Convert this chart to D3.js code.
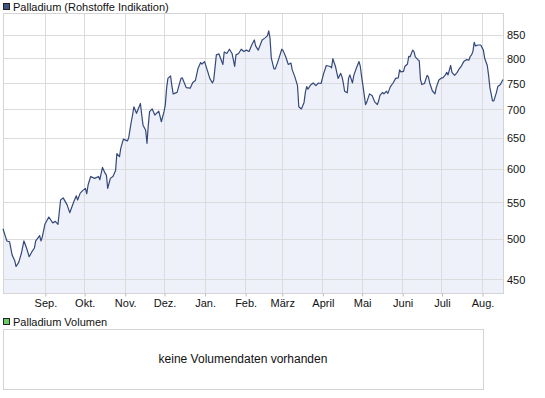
<!DOCTYPE html>
<html>
<head>
<meta charset="utf-8">
<script src="https://cdn.jsdelivr.net/npm/d3@7"></script>
<style>
  body { margin: 0; background: #fff; }
  svg { display: block; font-family: "Liberation Sans", Arial, sans-serif; }
</style>
</head>
<body>
<div id="canvas"><svg></svg></div>
<script>
// Palladium daily close, Aug 2010 - Aug 2011
const startDate = new Date(2010, 6, 31);
const endDate = new Date(2011, 7, 17);

// days after startDate
const dayOffsets = [
  0, 2, 3, 5, 7, 9, 10, 12, 14, 16, 18, 20, 22, 24, 25, 28, 29, 30, 32, 35,
  38, 40, 42, 43, 44, 46, 49, 51, 54, 56, 57, 59, 61, 63, 64, 65, 67, 70, 73, 74,
  76, 78, 79, 80, 82, 84, 86, 87, 89, 90, 92, 95, 96, 98, 99, 100, 102, 105, 106, 107,
  109, 110, 111, 112, 114, 116, 119, 121, 123, 124, 125, 126, 128, 129, 130, 133, 134, 136, 137, 140,
  143, 145, 147, 149, 151, 152, 154, 156, 158, 160, 161, 163, 165, 168, 169, 171, 173, 175, 177, 178,
  180, 182, 184, 186, 188, 190, 192, 193, 195, 198, 200, 202, 203, 204, 205, 207, 208, 210, 213, 214,
  216, 218, 220, 221, 223, 225, 226, 228, 230, 231, 232, 233, 235, 237, 239, 241, 243, 245, 247, 250,
  251, 252, 254, 256, 258, 259, 260, 261, 263, 264, 265, 267, 268, 270, 272, 273, 274, 275, 277, 278,
  280, 282, 284, 286, 287, 288, 290, 291, 293, 294, 296, 298, 300, 302, 303, 304, 306, 307, 309, 310,
  311, 313, 314, 315, 317, 318, 319, 320, 322, 324, 325, 326, 328, 330, 331, 333, 335, 336, 338, 339,
  340, 342, 343, 345, 347, 348, 350, 352, 354, 356, 357, 358, 359, 360, 361, 363, 365, 367, 368, 370,
  371, 372, 374, 375, 377, 378, 380, 382
];

const prices = [
  513, 502, 497, 496, 479, 472, 465, 470, 481, 497, 488, 477, 483, 488, 497, 504, 497, 502, 519, 529,
  521, 523, 519, 536, 553, 556, 546, 535, 550, 559, 553, 563, 567, 570, 562, 575, 588, 585, 588, 583,
  602, 593, 590, 570, 585, 588, 597, 624, 619, 633, 648, 645, 650, 678, 690, 705, 693, 711, 690, 672,
  663, 641, 672, 696, 701, 690, 697, 678, 696, 708, 740, 759, 764, 745, 729, 732, 741, 759, 760, 741,
  740, 751, 755, 779, 791, 788, 793, 776, 759, 750, 756, 807, 809, 787, 813, 810, 819, 810, 783, 807,
  810, 819, 814, 817, 814, 828, 839, 826, 817, 839, 843, 848, 859, 843, 800, 778, 778, 793, 819, 816,
  803, 787, 790, 776, 762, 745, 705, 701, 713, 732, 743, 738, 746, 750, 745, 750, 749, 769, 785, 783,
  780, 799, 783, 759, 769, 762, 750, 734, 731, 759, 766, 750, 765, 780, 793, 783, 762, 745, 709, 714,
  729, 726, 714, 709, 716, 726, 732, 729, 734, 730, 743, 750, 759, 760, 776, 772, 773, 783, 788, 804,
  803, 817, 814, 803, 797, 795, 756, 747, 749, 765, 762, 750, 735, 729, 741, 756, 760, 760, 766, 771,
  766, 785, 771, 765, 771, 776, 783, 793, 797, 796, 804, 807, 814, 834, 826, 828, 828, 817, 800, 785,
  765, 741, 716, 716, 732, 743, 747, 757
];

const priceTicks = [450, 500, 550, 600, 650, 700, 750, 800, 850];
const monthLabels = ["Sep.", "Okt.", "Nov.", "Dez.", "Jan.", "Feb.", "März", "April", "Mai", "Juni", "Juli", "Aug."];
const priceTitle = "Palladium (Rohstoffe Indikation)";
const volumeTitle = "Palladium Volumen";
const volumeEmpty = "keine Volumendaten vorhanden";

(function() {
  const W = 545, H = 398;
  const svg = d3.select('#canvas svg').attr('width', W).attr('height', H);

  const plot = { left: 3, right: 503, top: 13, bottom: 293 };
  const vol = { left: 3, right: 483, top: 329, bottom: 389 };

  const gridColor = '#dcdcdc';
  const lineColor = '#34497a';
  const fillColor = '#eef1fa';

  const data = dayOffsets.map((d, i) => ({ date: d3.timeDay.offset(startDate, d), value: prices[i] }));

  const x = d3.scaleTime().domain([startDate, endDate]).range([plot.left, plot.right]);
  const y = d3.scaleLog().domain([434, 900]).range([plot.bottom, plot.top]);

  const months = d3.timeMonth.range(new Date(2010, 8, 1), new Date(2011, 8, 1));

  // legend row
  function legend(yTop, fill, label) {
    svg.append('rect')
      .attr('x', 3.5).attr('y', yTop + 0.5).attr('width', 6).attr('height', 6)
      .attr('fill', fill).attr('stroke', '#222');
    svg.append('text')
      .attr('x', 13).attr('y', yTop + 7.5)
      .attr('font-size', 11).attr('fill', '#111')
      .text(label);
  }
  legend(3, '#3d5485', priceTitle);

  // area under the price line
  const area = d3.area()
    .x(d => x(d.date))
    .y0(plot.bottom)
    .y1(d => y(d.value));
  svg.append('path').datum(data)
    .attr('d', area)
    .attr('fill', fillColor);

  // grid
  const grid = svg.append('g').attr('stroke', gridColor).attr('stroke-width', 1).attr('shape-rendering', 'crispEdges');
  grid.selectAll('line.h').data(priceTicks).join('line')
    .attr('x1', plot.left).attr('x2', plot.right)
    .attr('y1', d => Math.round(y(d)) + 0.5).attr('y2', d => Math.round(y(d)) + 0.5);
  grid.selectAll('line.v').data(months).join('line')
    .attr('y1', plot.top).attr('y2', plot.bottom)
    .attr('x1', d => Math.round(x(d)) + 0.5).attr('x2', d => Math.round(x(d)) + 0.5);
  svg.append('rect')
    .attr('x', plot.left + 0.5).attr('y', plot.top + 0.5)
    .attr('width', plot.right - plot.left).attr('height', plot.bottom - plot.top)
    .attr('fill', 'none').attr('stroke', '#d4d4d4').attr('shape-rendering', 'crispEdges');

  // price line
  const line = d3.line()
    .x(d => x(d.date))
    .y(d => y(d.value));
  svg.append('path').datum(data)
    .attr('d', line)
    .attr('fill', 'none')
    .attr('stroke', lineColor)
    .attr('stroke-width', 1.2)
    .attr('stroke-linejoin', 'round');

  // axes
  const xAxis = d3.axisBottom(x)
    .tickValues(months)
    .tickFormat((d, i) => monthLabels[i])
    .tickSize(3)
    .tickPadding(3);
  const gx = svg.append('g')
    .attr('transform', `translate(0.5,${plot.bottom + 0.5})`)
    .call(xAxis);
  gx.select('.domain').remove();
  gx.selectAll('.tick line').attr('stroke', '#bbb');
  gx.selectAll('text').attr('font-size', 11).attr('fill', '#111')
    .attr('font-family', '"Liberation Sans", Arial, sans-serif');

  const yAxis = d3.axisRight(y)
    .tickValues(priceTicks)
    .tickFormat(d3.format('d'))
    .tickSize(0)
    .tickPadding(4);
  const gy = svg.append('g')
    .attr('transform', `translate(${plot.right},0.5)`)
    .call(yAxis);
  gy.select('.domain').remove();
  gy.selectAll('text').attr('font-size', 11).attr('fill', '#111')
    .attr('font-family', '"Liberation Sans", Arial, sans-serif');

  // volume panel (no data)
  legend(318, '#66cc66', volumeTitle);
  svg.append('rect')
    .attr('x', vol.left + 0.5).attr('y', vol.top + 0.5)
    .attr('width', vol.right - vol.left).attr('height', vol.bottom - vol.top)
    .attr('fill', '#fff').attr('stroke', '#d4d4d4').attr('shape-rendering', 'crispEdges');
  svg.append('text')
    .attr('x', (vol.left + vol.right) / 2).attr('y', 363)
    .attr('text-anchor', 'middle')
    .attr('font-size', 12).attr('fill', '#111')
    .text(volumeEmpty);
})();
</script>
</body>
</html>
